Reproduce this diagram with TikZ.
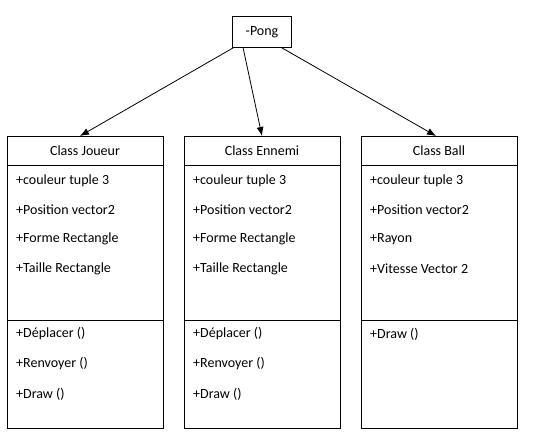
\documentclass[tikz,border=0pt]{standalone}
\usepackage{fontspec}
\setmainfont{Carlito}
\usetikzlibrary{arrows.meta}
\begin{document}
\begin{tikzpicture}[x=1pt,y=-1pt,
  box/.style={draw,line width=0.8pt},
  attr/.style={anchor=west,inner sep=0pt,font=\fontsize{14}{16}\selectfont},
  head/.style={inner sep=0pt,font=\fontsize{14}{16}\selectfont},
  arr/.style={line width=0.8pt,-{Latex[length=9pt,width=7pt]}}]
\useasboundingbox (0,0) rectangle (533,435);
% top box
\node[box,minimum width=59pt,minimum height=31pt,inner sep=0pt,font=\fontsize{14}{16}\selectfont] (pong) at (262,32) {-Pong};
% class boxes
\foreach \n/\x in {j/7,e/184,b/361}{
  \draw[line width=0.8pt] (\x,136) rectangle ++(156,292);
  \draw[line width=0.8pt] (\x,165) -- ++(156,0);
  \draw[line width=0.8pt] (\x,320) -- ++(156,0);
  \coordinate (\n top) at (\x+78,136);
}
\node[head] (jh) at (85,151) {Class Joueur};
\node[head] (eh) at (262,151) {Class Ennemi};
\node[head] (bh) at (439,151) {Class Ball};
% Joueur
\node[attr] (j1) at (16,181) {+couleur tuple 3};
\node[attr] (j2) at (16,210) {+Position vector2};
\node[attr] (j3) at (16,239) {+Forme Rectangle};
\node[attr] (j4) at (16,269) {+Taille Rectangle};
\node[attr] (j5) at (16,334) {+Déplacer ()};
\node[attr] (j6) at (16,364) {+Renvoyer ()};
\node[attr] (j7) at (16,394) {+Draw ()};
% Ennemi
\node[attr] (e1) at (193,181) {+couleur tuple 3};
\node[attr] (e2) at (193,210) {+Position vector2};
\node[attr] (e3) at (193,239) {+Forme Rectangle};
\node[attr] (e4) at (193,269) {+Taille Rectangle};
\node[attr] (e5) at (193,334) {+Déplacer ()};
\node[attr] (e6) at (193,364) {+Renvoyer ()};
\node[attr] (e7) at (193,394) {+Draw ()};
% Ball
\node[attr] (b1) at (370,181) {+couleur tuple 3};
\node[attr] (b2) at (370,210) {+Position vector2};
\node[attr] (b3) at (370,239) {+Rayon};
\node[attr] (b4) at (370,269) {+Vitesse Vector 2};
\node[attr] (b5) at (370,334) {+Draw ()};
% arrows
\coordinate (jt) at (80,136);
\coordinate (et) at (262,136);
\coordinate (bt) at (436,136);
\draw[arr] (pong.south west) ++(1,0) -- (jt);
\draw[arr] (pong.south west) ++(11,0) -- (et);
\draw[arr] (pong.south east) ++(-10,0) -- (bt);
\end{tikzpicture}
\end{document}
